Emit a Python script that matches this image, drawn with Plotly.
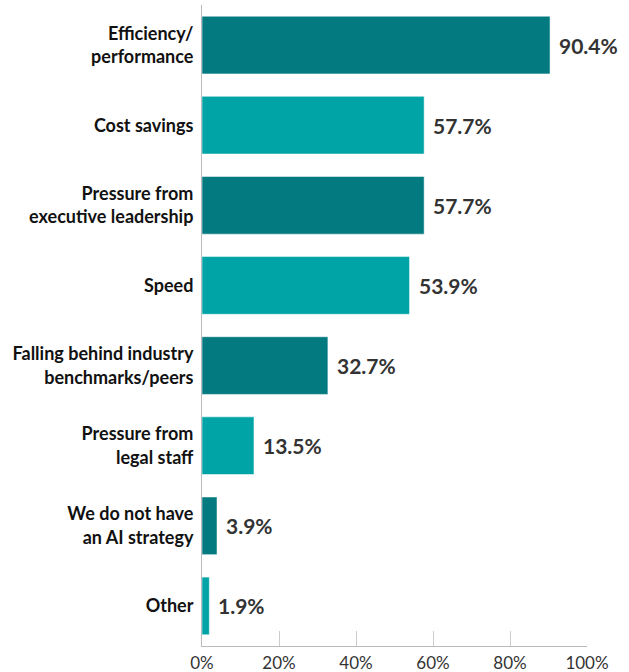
import plotly.graph_objects as go

categories = [
    "Efficiency/<br>performance",
    "Cost savings",
    "Pressure from<br>executive leadership",
    "Speed",
    "Falling behind industry<br>benchmarks/peers",
    "Pressure from<br>legal staff",
    "We do not have<br>an AI strategy",
    "Other",
]
values = [90.4, 57.7, 57.7, 53.9, 32.7, 13.5, 3.9, 1.9]
labels = ["90.4%", "57.7%", "57.7%", "53.9%", "32.7%", "13.5%", "3.9%", "1.9%"]
tick_vals = [0, 20, 40, 60, 80, 100]
tick_text = ["0%", "20%", "40%", "60%", "80%", "100%"]

dark = "#037A80"
light = "#00A3A6"
colors = [dark if i % 2 == 0 else light for i in range(len(categories))]

fig = go.Figure()
fig.add_trace(go.Bar(
    x=values,
    y=categories,
    orientation="h",
    marker=dict(color=colors, line=dict(color="rgba(255,255,255,0.5)", width=1)),
    width=0.72,
    hoverinfo="skip",
))

for c, v, t in zip(categories, values, labels):
    fig.add_annotation(
        x=v, y=c, text="<b>" + t + "</b>", showarrow=False,
        xanchor="left", xshift=7, yshift=0,
        font=dict(family="Lato", size=21, color="#333333"),
    )

fig.update_layout(
    width=629, height=672,
    margin=dict(l=202, r=42, t=5, b=26),
    paper_bgcolor="white",
    plot_bgcolor="white",
    showlegend=False,
    bargap=0.28,
)
fig.update_xaxes(
    range=[0, 100],
    tickvals=tick_vals,
    ticktext=tick_text,
    showgrid=False,
    zeroline=False,
    showline=True,
    linecolor="#BBBBBB",
    linewidth=1,
    ticks="inside",
    ticklen=15,
    tickcolor="#CCCCCC",
    ticklabelstandoff=2,
    automargin=False,
    tickfont=dict(family="Lato", size=17, color="#333333"),
    fixedrange=True,
)
fig.update_yaxes(
    autorange="reversed",
    showgrid=False,
    zeroline=False,
    showline=True,
    linecolor="#BBBBBB",
    linewidth=1,
    ticks="",
    ticklabelstandoff=4,
    automargin=False,
    tickfont=dict(family="Lato", size=18, color="#111111", weight="bold"),
    fixedrange=True,
)

fig.write_html("out.html")
